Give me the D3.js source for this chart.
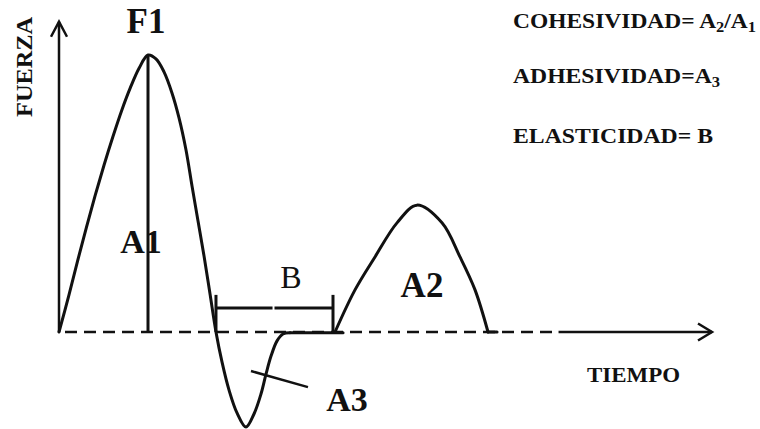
<!DOCTYPE html>
<html lang="es">
<head>
<meta charset="UTF-8">
<title>Perfil de textura</title>
<style>
  body { margin: 0; background: #fff; }
  svg { display: block; }
  text { font-family: "Liberation Serif", "Times New Roman", serif; fill: #111; }
</style>
</head>
<body>
<script src="https://d3js.org/d3.v7.min.js"></script>
<script>
  // curva fuerza / tiempo (unidades arbitrarias), en tramos
  const tiempo1 = [0, 0.150, 0.285, 0.420, 0.554, 0.689, 0.824, 0.959, 1.093, 1.228, 1.363,
                   1.485, 1.608, 1.730, 1.838, 1.945, 2.037, 2.129, 2.221, 2.313, 2.404,
                   2.496, 2.603, 2.726, 2.864, 2.986, 3.093, 3.170, 3.247, 3.339, 3.430, 3.538];
  const fuerza1 = [0, 1.31, 2.57, 3.78, 4.93, 6.02, 7.04, 7.99, 8.82, 9.53, 10.0,
                   9.86, 9.39, 8.63, 7.73, 6.57, 5.27, 4.01, 2.74, 1.37, 0,
                   -1.08, -2.09, -2.92, -3.43, -2.96, -2.24, -1.52, -0.87, -0.32, -0.07, -0.03];
  const tiempo2 = [3.538, 4.350];
  const fuerza2 = [-0.03, -0.03];
  const tiempo3 = [4.227, 4.533, 4.839, 5.176, 5.482, 5.865, 6.141, 6.371, 6.570];
  const fuerza3 = [0, 1.52, 2.71, 3.94, 4.58, 3.94, 2.71, 1.52, 0];
  const tiempo4 = [6.570, 6.708];
  const fuerza4 = [0, 0];

  const picoF1 = [1.363, 10.0];          // tiempo, fuerza del primer pico
  const tramoB = [2.404, 4.196];          // inicio y fin de B
  const alturaB = [0.87, 1.34];           // barra, remate
  const guiaA3 = [[2.940, -1.41], [3.813, -1.99]];
  const finEjeX = 10, finEjeY = 11.2, finDiscontinua = 7.65;

  const etiquetas = ["F1", "A1", "A2", "A3", "B"];
  const etiquetaT = [1.332, 1.256, 5.559, 4.410, 3.553];
  const etiquetaF = [10.79, 2.85, 1.26, -2.85, 1.59];

  const formulas = ["COHESIVIDAD= A_2/A_1", "ADHESIVIDAD=A_3", "ELASTICIDAD= B"];
  const formulaF = [10.97, 8.99, 6.82];
  const formulaAncho = [243, 207, 200];

  const W = 760, H = 429;
  const x = d3.scaleLinear().domain([0, 10]).range([59, 712]);
  const y = d3.scaleLinear().domain([0, 10]).range([332, 55]);

  const svg = d3.select("body").append("svg")
      .attr("width", W)
      .attr("height", H);

  // ejes
  svg.append("line")
      .attr("x1", x(0)).attr("y1", y(0))
      .attr("x2", x(0)).attr("y2", y(finEjeY))
      .attr("stroke", "#111").attr("stroke-width", 2.5);
  svg.append("path")
      .attr("d", `M${x(0) - 8},${y(finEjeY) + 15}L${x(0)},${y(finEjeY)}L${x(0) + 8},${y(finEjeY) + 15}`)
      .attr("fill", "none").attr("stroke", "#111").attr("stroke-width", 2.5);

  svg.append("line")
      .attr("x1", x(0)).attr("y1", y(0))
      .attr("x2", x(finDiscontinua)).attr("y2", y(0))
      .attr("stroke", "#111").attr("stroke-width", 2.5)
      .attr("stroke-dasharray", "12,7")
      .attr("stroke-dashoffset", -6);
  svg.append("line")
      .attr("x1", x(finDiscontinua)).attr("y1", y(0))
      .attr("x2", x(finEjeX)).attr("y2", y(0))
      .attr("stroke", "#111").attr("stroke-width", 2.5);
  svg.append("path")
      .attr("d", `M${x(finEjeX) - 14},${y(0) - 8.5}L${x(finEjeX)},${y(0)}L${x(finEjeX) - 14},${y(0) + 8.5}`)
      .attr("fill", "none").attr("stroke", "#111").attr("stroke-width", 2.5);

  // curva
  const linea = d3.line()
      .x(d => x(d[0]))
      .y(d => y(d[1]))
      .curve(d3.curveCatmullRom.alpha(0.5));

  const tramos = [[tiempo1, fuerza1], [tiempo2, fuerza2], [tiempo3, fuerza3], [tiempo4, fuerza4]];
  svg.selectAll("path.curva")
      .data(tramos.map(([ts, fs]) => ts.map((t, i) => [t, fs[i]])))
      .join("path")
      .attr("class", "curva")
      .attr("d", linea)
      .attr("fill", "none")
      .attr("stroke", "#111")
      .attr("stroke-width", 3)
      .attr("stroke-linejoin", "round")
      .attr("stroke-linecap", "round");

  // linea vertical del pico F1
  svg.append("line")
      .attr("x1", x(picoF1[0])).attr("y1", y(0))
      .attr("x2", x(picoF1[0])).attr("y2", y(picoF1[1]))
      .attr("stroke", "#111").attr("stroke-width", 3);

  // intervalo B
  const medioB = (tramoB[0] + tramoB[1]) / 2 - 0.03;
  [[tramoB[0], medioB], [medioB + 0.03, tramoB[1]]].forEach(s => {
    svg.append("line")
        .attr("x1", x(s[0])).attr("y1", y(alturaB[0]))
        .attr("x2", x(s[1])).attr("y2", y(alturaB[0]))
        .attr("stroke", "#111").attr("stroke-width", 3);
  });
  tramoB.forEach(t => {
    svg.append("line")
        .attr("x1", x(t)).attr("y1", y(0))
        .attr("x2", x(t)).attr("y2", y(alturaB[1]))
        .attr("stroke", "#111").attr("stroke-width", 3);
  });

  // guia de A3
  svg.append("line")
      .attr("x1", x(guiaA3[0][0])).attr("y1", y(guiaA3[0][1]))
      .attr("x2", x(guiaA3[1][0])).attr("y2", y(guiaA3[1][1]))
      .attr("stroke", "#111").attr("stroke-width", 2.5);

  // etiquetas de la curva
  svg.selectAll("text.etq")
      .data(etiquetas)
      .join("text")
      .attr("class", "etq")
      .attr("x", (d, i) => x(etiquetaT[i]))
      .attr("y", (d, i) => y(etiquetaF[i]))
      .attr("text-anchor", "middle")
      .attr("font-size", d => d === "B" ? 32 : (d === "F1" || d === "A2" ? 35 : 34))
      .attr("font-weight", d => d === "B" ? "normal" : "bold")
      .text(d => d);

  // nombres de ejes
  svg.append("text")
      .attr("transform", `translate(${x(-0.413)},${y(9.57)}) rotate(-90)`)
      .attr("text-anchor", "middle")
      .attr("font-size", 23)
      .attr("font-weight", "bold")
      .attr("textLength", 100)
      .attr("lengthAdjust", "spacingAndGlyphs")
      .text("FUERZA");

  svg.append("text")
      .attr("x", x(8.086))
      .attr("y", y(-1.81))
      .attr("font-size", 20)
      .attr("font-weight", "bold")
      .attr("textLength", 93)
      .attr("lengthAdjust", "spacingAndGlyphs")
      .text("TIEMPO");

  // formulas
  formulas.forEach((f, i) => {
    const txt = svg.append("text")
        .attr("x", x(6.953))
        .attr("y", y(formulaF[i]))
        .attr("font-size", 20)
        .attr("font-weight", "bold")
        .attr("textLength", formulaAncho[i])
        .attr("lengthAdjust", "spacingAndGlyphs");
    let bajado = false;
    f.split(/(_\d)/).filter(s => s.length).forEach(s => {
      if (s[0] === "_") {
        txt.append("tspan").attr("font-size", 14).attr("dy", 4).text(s.slice(1));
        bajado = true;
      } else {
        txt.append("tspan").attr("dy", bajado ? -4 : null).text(s);
        bajado = false;
      }
    });
  });
</script>
</body>
</html>
